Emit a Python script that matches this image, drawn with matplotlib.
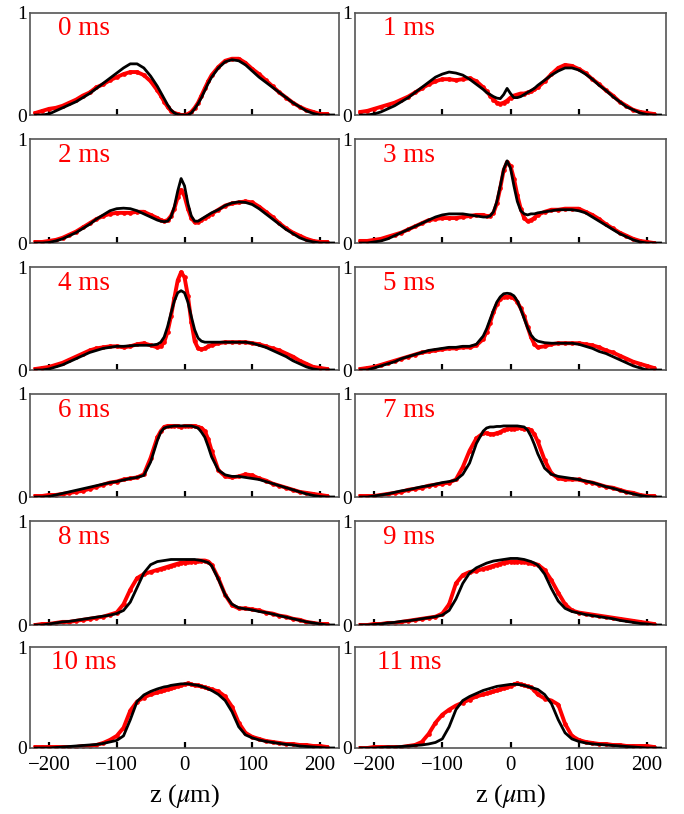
import numpy as np
import matplotlib
matplotlib.use("Agg")
import matplotlib.pyplot as plt

plt.rcParams['font.family'] = ['serif']
plt.rcParams['font.serif'] = ['Liberation Serif', 'DejaVu Serif']
plt.rcParams['mathtext.fontset'] = 'stix'

nan = np.nan

# z positions (micrometres)
z = [-220, -210, -200, -190, -180, -170, -160, -150, -140, -130, -120, -110, -100, -90, -80, -70, -60, -50, -40,
     -35, -30, -25, -20, -15, -10, -5, 0, 5, 10, 15, 20, 25, 30, 35,
     40, 50, 60, 70, 80, 90, 100, 110, 120, 130, 140, 150, 160, 170, 180, 190, 200, 210, 220]

labels = ["0 ms", "1 ms", "2 ms", "3 ms", "4 ms", "5 ms",
          "6 ms", "7 ms", "8 ms", "9 ms", "10 ms", "11 ms"]

# theory (black line)
theory_0 = [0, 0, 0.01, 0.04, 0.07, 0.10, 0.13, 0.17, 0.21, 0.26, 0.31, 0.36, 0.41, 0.46, 0.50, 0.50, 0.46, 0.38, 0.28,
            0.22, 0.16, 0.10, 0.05, 0.02, 0.005, 0, 0, 0, 0.02, 0.06, 0.11, 0.17, 0.24, 0.31,
            0.37, 0.46, 0.52, 0.54, 0.53, 0.49, 0.43, 0.37, 0.32, 0.27, 0.22, 0.17, 0.12, 0.08, 0.04, 0.015, 0, 0, 0]
theory_1 = [0, 0, 0.01, 0.03, 0.06, 0.09, 0.13, 0.17, 0.22, 0.27, 0.32, 0.37, 0.40, 0.42, 0.41, 0.39, 0.35, 0.30, 0.25,
            0.22, 0.20, 0.18, 0.165, 0.16, 0.20, 0.26, 0.21, 0.17, 0.17, 0.18, 0.20, 0.22, 0.24, 0.26,
            0.29, 0.34, 0.39, 0.43, 0.46, 0.46, 0.44, 0.40, 0.35, 0.29, 0.24, 0.18, 0.13, 0.08, 0.05, 0.02, 0.005, 0, 0]
theory_2 = [0, 0, 0.005, 0.02, 0.04, 0.07, 0.10, 0.14, 0.18, 0.23, 0.27, 0.31, 0.33, 0.335, 0.33, 0.31, 0.28, 0.25, 0.22,
            0.21, 0.205, 0.21, 0.25, 0.35, 0.50, 0.62, 0.55, 0.38, 0.26, 0.21, 0.21, 0.23, 0.25, 0.27,
            0.29, 0.32, 0.36, 0.385, 0.395, 0.39, 0.37, 0.33, 0.28, 0.23, 0.18, 0.13, 0.09, 0.05, 0.025, 0.01, 0, 0, 0]
theory_3 = [0, 0, 0.01, 0.02, 0.04, 0.07, 0.10, 0.13, 0.16, 0.19, 0.22, 0.25, 0.27, 0.28, 0.28, 0.28, 0.27, 0.26, 0.25,
            0.25, 0.26, 0.30, 0.40, 0.55, 0.71, 0.79, 0.72, 0.55, 0.40, 0.31, 0.28, 0.27, 0.28, 0.28,
            0.29, 0.30, 0.31, 0.32, 0.32, 0.32, 0.31, 0.29, 0.25, 0.21, 0.17, 0.13, 0.09, 0.06, 0.03, 0.01, 0, 0, 0]
theory_4 = [0, 0, 0.01, 0.03, 0.05, 0.08, 0.11, 0.14, 0.17, 0.19, 0.21, 0.22, 0.23, 0.23, 0.235, 0.24, 0.24, 0.24, 0.25,
            0.27, 0.32, 0.42, 0.55, 0.67, 0.75, 0.77, 0.75, 0.66, 0.52, 0.39, 0.31, 0.28, 0.27, 0.27,
            0.27, 0.27, 0.27, 0.27, 0.27, 0.27, 0.26, 0.24, 0.22, 0.19, 0.16, 0.13, 0.09, 0.06, 0.03, 0.01, 0, 0, 0]
theory_5 = [0, 0, 0.02, 0.04, 0.06, 0.08, 0.11, 0.13, 0.15, 0.17, 0.19, 0.20, 0.21, 0.22, 0.22, 0.23, 0.23, 0.25, 0.33,
            0.40, 0.49, 0.58, 0.66, 0.71, 0.74, 0.745, 0.74, 0.72, 0.67, 0.59, 0.50, 0.41, 0.34, 0.30,
            0.28, 0.265, 0.26, 0.26, 0.26, 0.26, 0.25, 0.23, 0.21, 0.18, 0.16, 0.13, 0.10, 0.07, 0.04, 0.02, 0, 0, 0]
theory_6 = [0, 0, 0.005, 0.02, 0.035, 0.05, 0.065, 0.08, 0.095, 0.11, 0.125, 0.14, 0.15, 0.165, 0.18, 0.19, 0.21, 0.34, 0.55,
            0.63, 0.67, 0.68, 0.685, 0.69, 0.69, 0.69, 0.69, 0.69, 0.69, 0.68, 0.67, 0.63, 0.58, 0.49,
            0.39, 0.26, 0.215, 0.20, 0.20, 0.19, 0.18, 0.17, 0.15, 0.13, 0.11, 0.09, 0.07, 0.05, 0.03, 0.015, 0.005, 0, 0]
theory_7 = [0, 0, 0.01, 0.02, 0.03, 0.045, 0.06, 0.07, 0.085, 0.10, 0.11, 0.125, 0.14, 0.15, 0.165, 0.22, 0.33, 0.52, 0.64,
            0.67, 0.68, 0.68, 0.685, 0.685, 0.69, 0.69, 0.69, 0.69, 0.69, 0.685, 0.68, 0.65, 0.59, 0.51,
            0.42, 0.28, 0.22, 0.20, 0.19, 0.18, 0.17, 0.155, 0.14, 0.12, 0.10, 0.085, 0.065, 0.045, 0.03, 0.015, 0.005, 0, 0]
theory_8 = [0, 0, 0.01, 0.02, 0.03, 0.035, 0.045, 0.055, 0.065, 0.075, 0.085, 0.095, 0.11, 0.14, 0.22, 0.36, 0.50, 0.58, 0.61,
            0.615, 0.62, 0.625, 0.63, 0.63, 0.63, 0.63, 0.63, 0.63, 0.63, 0.63, 0.625, 0.62, 0.61, 0.60,
            0.57, 0.44, 0.29, 0.20, 0.165, 0.155, 0.145, 0.13, 0.12, 0.105, 0.09, 0.075, 0.06, 0.045, 0.03, 0.02, 0.01, 0, 0]
theory_9 = [0, 0, 0.005, 0.01, 0.02, 0.025, 0.035, 0.04, 0.05, 0.06, 0.07, 0.08, 0.095, 0.14, 0.25, 0.40, 0.50, 0.55, 0.58,
            0.595, 0.605, 0.615, 0.62, 0.625, 0.63, 0.635, 0.64, 0.64, 0.64, 0.635, 0.63, 0.62, 0.61, 0.595,
            0.575, 0.49, 0.35, 0.23, 0.16, 0.13, 0.115, 0.10, 0.09, 0.08, 0.07, 0.06, 0.045, 0.035, 0.025, 0.015, 0.01, 0, 0]
theory_10 = [0, 0, 0, 0.005, 0.01, 0.015, 0.02, 0.025, 0.03, 0.035, 0.045, 0.06, 0.075, 0.12, 0.28, 0.46, 0.525, 0.56, 0.585,
             0.595, 0.605, 0.61, 0.62, 0.625, 0.63, 0.635, 0.635, 0.635, 0.63, 0.625, 0.62, 0.61, 0.60, 0.585,
             0.57, 0.53, 0.47, 0.36, 0.21, 0.13, 0.10, 0.08, 0.065, 0.055, 0.045, 0.035, 0.03, 0.02, 0.015, 0.01, 0.005, 0, 0]
theory_11 = [0, 0, 0, 0.005, 0.01, 0.01, 0.015, 0.02, 0.025, 0.03, 0.04, 0.055, 0.09, 0.21, 0.38, 0.47, 0.51, 0.54, 0.57,
             0.58, 0.59, 0.60, 0.61, 0.615, 0.62, 0.625, 0.63, 0.63, 0.63, 0.625, 0.62, 0.61, 0.60, 0.59,
             0.58, 0.53, 0.44, 0.28, 0.15, 0.09, 0.065, 0.05, 0.04, 0.035, 0.03, 0.025, 0.02, 0.015, 0.01, 0.005, 0, 0, 0]

# measured (red points)
data_0 = [0.02, 0.04, 0.06, 0.07, 0.09, 0.12, 0.15, 0.19, 0.22, 0.27, 0.30, 0.34, 0.37, 0.40, 0.42, 0.42, 0.39, 0.33, 0.24,
          0.19, 0.13, 0.08, 0.04, 0.02, 0.01, 0.0, 0.0, 0.01, 0.03, 0.07, 0.12, 0.19, 0.26, 0.33,
          0.39, 0.47, 0.53, 0.55, 0.55, 0.51, 0.45, 0.40, 0.34, 0.28, 0.22, 0.17, 0.12, 0.08, 0.05, 0.03, 0.01, 0.01, nan]
data_1 = [0.03, 0.04, 0.06, 0.08, 0.10, 0.12, 0.15, 0.18, 0.22, 0.26, 0.30, 0.33, 0.35, 0.35, 0.34, 0.35, 0.36, 0.33, 0.27,
          0.23, 0.19, 0.15, 0.12, 0.11, 0.12, 0.14, 0.17, 0.19, 0.20, 0.21, 0.21, 0.22, 0.23, 0.25,
          0.27, 0.33, 0.40, 0.46, 0.49, 0.48, 0.45, 0.41, 0.35, 0.30, 0.24, 0.19, 0.13, 0.09, 0.05, 0.03, 0.02, 0.01, nan]
data_2 = [0.01, 0.01, 0.02, 0.03, 0.05, 0.08, 0.11, 0.15, 0.19, 0.23, 0.26, 0.28, 0.29, 0.29, 0.29, 0.30, 0.30, 0.27, 0.24,
          0.22, 0.21, 0.22, 0.26, 0.33, 0.44, 0.51, 0.45, 0.33, 0.24, 0.20, 0.20, 0.22, 0.24, 0.26,
          0.28, 0.32, 0.36, 0.38, 0.39, 0.40, 0.39, 0.35, 0.30, 0.25, 0.19, 0.14, 0.10, 0.07, 0.04, 0.02, 0.01, 0.01, nan]
data_3 = [0.02, 0.02, 0.03, 0.04, 0.06, 0.08, 0.10, 0.13, 0.16, 0.19, 0.22, 0.23, 0.24, 0.24, 0.24, 0.25, 0.26, 0.27, 0.27,
          0.26, 0.26, 0.29, 0.38, 0.53, 0.70, 0.78, 0.74, 0.62, 0.46, 0.33, 0.24, 0.21, 0.22, 0.24,
          0.27, 0.30, 0.32, 0.32, 0.33, 0.33, 0.33, 0.30, 0.27, 0.23, 0.18, 0.14, 0.10, 0.07, 0.04, 0.02, 0.01, 0.0, nan]
data_4 = [0.01, 0.02, 0.03, 0.05, 0.07, 0.10, 0.13, 0.16, 0.19, 0.21, 0.22, 0.23, 0.23, 0.22, 0.23, 0.25, 0.26, 0.24, 0.22,
          0.23, 0.27, 0.37, 0.52, 0.70, 0.87, 0.95, 0.90, 0.72, 0.47, 0.28, 0.21, 0.20, 0.21, 0.23,
          0.24, 0.26, 0.27, 0.27, 0.27, 0.27, 0.26, 0.25, 0.23, 0.21, 0.19, 0.16, 0.13, 0.09, 0.06, 0.03, 0.02, 0.01, nan]
data_5 = [0.01, 0.02, 0.03, 0.05, 0.07, 0.09, 0.11, 0.13, 0.15, 0.17, 0.18, 0.19, 0.20, 0.21, 0.21, 0.22, 0.22, 0.24, 0.30,
          0.37, 0.46, 0.56, 0.64, 0.69, 0.71, 0.71, 0.71, 0.70, 0.66, 0.60, 0.52, 0.42, 0.32, 0.25,
          0.22, 0.23, 0.25, 0.26, 0.26, 0.26, 0.26, 0.25, 0.24, 0.22, 0.19, 0.17, 0.14, 0.11, 0.08, 0.06, 0.04, 0.02, nan]
data_6 = [0.01, 0.01, 0.02, 0.02, 0.03, 0.04, 0.05, 0.06, 0.08, 0.10, 0.12, 0.14, 0.15, 0.17, 0.18, 0.19, 0.22, 0.38, 0.58,
          0.64, 0.68, 0.69, 0.69, 0.69, 0.69, 0.68, 0.69, 0.69, 0.69, 0.69, 0.68, 0.67, 0.64, 0.56,
          0.45, 0.26, 0.20, 0.19, 0.20, 0.22, 0.21, 0.18, 0.16, 0.13, 0.11, 0.09, 0.07, 0.05, 0.04, 0.03, 0.02, 0.01, nan]
data_7 = [0.01, 0.01, 0.01, 0.02, 0.03, 0.04, 0.05, 0.07, 0.08, 0.09, 0.11, 0.12, 0.13, 0.14, 0.17, 0.29, 0.45, 0.57, 0.62,
          0.62, 0.61, 0.61, 0.62, 0.63, 0.65, 0.66, 0.66, 0.66, 0.67, 0.67, 0.66, 0.66, 0.65, 0.61,
          0.54, 0.36, 0.23, 0.18, 0.17, 0.17, 0.17, 0.15, 0.14, 0.12, 0.10, 0.09, 0.07, 0.05, 0.04, 0.02, 0.01, 0.01, nan]
data_8 = [0.0, 0.01, 0.01, 0.02, 0.03, 0.03, 0.04, 0.05, 0.06, 0.07, 0.08, 0.10, 0.12, 0.20, 0.34, 0.45, 0.49, 0.51, 0.53,
          0.54, 0.55, 0.56, 0.57, 0.58, 0.59, 0.60, 0.60, 0.61, 0.61, 0.61, 0.62, 0.62, 0.62, 0.61,
          0.58, 0.45, 0.29, 0.19, 0.16, 0.16, 0.15, 0.14, 0.12, 0.11, 0.09, 0.08, 0.06, 0.05, 0.03, 0.02, 0.01, 0.01, nan]
data_9 = [0.0, 0.0, 0.01, 0.01, 0.02, 0.02, 0.03, 0.04, 0.05, 0.06, 0.07, 0.08, 0.11, 0.20, 0.40, 0.48, 0.51, 0.52, 0.54,
          0.55, 0.56, 0.57, 0.58, 0.59, 0.60, 0.61, 0.61, 0.61, 0.61, 0.61, 0.61, 0.60, 0.60, 0.59,
          0.58, 0.53, 0.43, 0.31, 0.20, 0.14, 0.12, 0.11, 0.10, 0.09, 0.08, 0.07, 0.06, 0.05, 0.04, 0.03, 0.02, 0.01, nan]
data_10 = [0.01, 0.01, 0.01, 0.01, 0.01, 0.01, 0.01, 0.02, 0.02, 0.03, 0.05, 0.08, 0.12, 0.20, 0.37, 0.46, 0.50, 0.53, 0.55,
           0.56, 0.57, 0.58, 0.59, 0.60, 0.61, 0.62, 0.63, 0.64, 0.63, 0.62, 0.62, 0.61, 0.60, 0.59,
           0.58, 0.56, 0.51, 0.41, 0.25, 0.15, 0.11, 0.09, 0.07, 0.06, 0.05, 0.04, 0.04, 0.03, 0.03, 0.02, 0.02, 0.01, nan]
data_11 = [0.0, 0.0, 0.01, 0.01, 0.01, 0.01, 0.01, 0.02, 0.03, 0.06, 0.14, 0.25, 0.33, 0.38, 0.42, 0.45, 0.48, 0.51, 0.53,
           0.54, 0.55, 0.56, 0.57, 0.58, 0.59, 0.60, 0.61, 0.63, 0.64, 0.63, 0.62, 0.61, 0.60, 0.57,
           0.53, 0.49, 0.47, 0.43, 0.24, 0.12, 0.08, 0.06, 0.05, 0.04, 0.04, 0.03, 0.03, 0.02, 0.02, 0.02, 0.02, 0.01, nan]

theories = [theory_0, theory_1, theory_2, theory_3, theory_4, theory_5,
            theory_6, theory_7, theory_8, theory_9, theory_10, theory_11]
datas = [data_0, data_1, data_2, data_3, data_4, data_5,
         data_6, data_7, data_8, data_9, data_10, data_11]

xticks = [-200, -100, 0, 100, 200]
xticklabels = ["\u2212200", "\u2212100", "0", "100", "200"]

W, H = 684, 814
fig = plt.figure(figsize=(W / 100, H / 100), dpi=100)

col_x = [(30, 339), (355, 666)]
row_y = [(12.7, 115), (139, 243), (267, 370), (394, 497), (521, 625), (647, 748)]

for i in range(12):
    r, c = divmod(i, 2)
    x0, x1 = col_x[c]
    yt, yb = row_y[r]
    ax = fig.add_axes([x0 / W, 1 - yb / H, (x1 - x0) / W, (yb - yt) / H])
    ax.plot(z, datas[i], color='#ff0000', lw=2.8, marker='o', ms=3.4, mew=0, zorder=2)
    ax.plot(z, theories[i], color='black', lw=2.0, zorder=3)
    ax.set_xlim(-228, 228)
    ax.set_ylim(0, 1)
    for s in ax.spines.values():
        s.set_color('#555555')
        s.set_linewidth(1.2)
    ax.set_xticks(xticks)
    ax.tick_params(axis='x', direction='in', length=4.5, width=1.6, color='black', pad=6, labelsize=15)
    ax.set_yticks([0, 1])
    ax.set_yticklabels(["0", "1"])
    ax.tick_params(axis='y', length=0, pad=2, labelsize=14)
    if r == 5:
        ax.set_xticklabels(xticklabels)
        ax.set_xlabel("z ($\\mu$m)", fontsize=19, labelpad=5)
    else:
        ax.set_xticklabels([])
    ax.text(0.175, 0.78, labels[i], transform=ax.transAxes, color='#ff0000',
            fontsize=19.5, ha='center', va='baseline')

fig.savefig("out.png", dpi=100)
